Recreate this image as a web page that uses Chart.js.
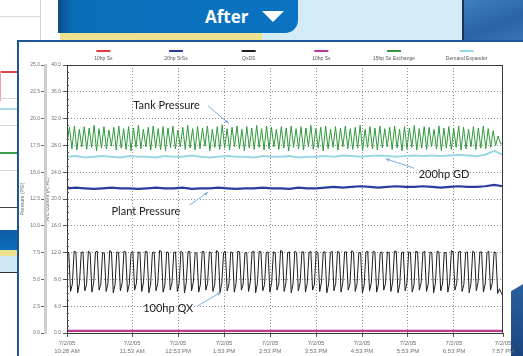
<!DOCTYPE html>
<html>
<head>
<meta charset="utf-8">
<script src="https://cdn.jsdelivr.net/npm/chart.js@4.4.1/dist/chart.umd.min.js"></script>
<style>
  body { margin: 0; width: 523px; height: 356px; overflow: hidden; position: relative; background: #fff; font-family: Lato, "Open Sans", sans-serif; }
  .abs { position: absolute; }
  #header { left: 58px; top: 0; width: 240px; height: 33px; background: linear-gradient(to right, #0b4c86 0, #0a6db8 14px, #0a73c2 100%); border-bottom-right-radius: 13px; z-index: 3; }
  #header span { position: absolute; left: 147px; top: 5px; color: #fff; font: 700 17px "Open Sans", sans-serif; }
  #header i { position: absolute; left: 204px; top: 11px; width: 0; height: 0; border-left: 11px solid transparent; border-right: 11px solid transparent; border-top: 11px solid #fff; }
  #sky { left: 262px; top: 0; width: 201px; height: 40px; background: #d3ebf7; }
  #sep { left: 462px; top: 0; width: 2px; height: 40px; background: #1b3350; }
  #water { left: 464px; top: 0; width: 59px; height: 40px; background: linear-gradient(160deg, #3f7fc0, #2a63a6 60%, #3a74b6); }
  #gold { left: 60px; top: 33px; width: 202px; height: 7px; background: #ece290; z-index: 2; }
  #panel { left: 17px; top: 40px; width: 520px; height: 330px; border: 2px solid #1d5595; background: #fff; box-sizing: border-box; }
  #corner { left: 511px; top: 284px; width: 12px; height: 72px; background: linear-gradient(#2a5f9e, #1a4680); clip-path: polygon(0 10%, 100% 0, 100% 100%, 0 100%); }
  #chart { position: absolute; left: 20px; top: 42px; }
</style>
</head>
<body>
<div class="abs" style="left:0;top:16px;width:40px;height:1px;background:#d9d9d9"></div>
<div class="abs" style="left:40px;top:0;width:1px;height:40px;background:#d5d5d5"></div>
<div class="abs" style="left:0;top:71px;width:17px;height:2px;background:#e0454a"></div>
<div class="abs" style="left:0;top:71px;width:1px;height:30px;background:#f0a0a0"></div>
<div class="abs" style="left:0;top:98px;width:17px;height:1px;background:#d5d5d5"></div>
<div class="abs" style="left:0;top:108px;width:17px;height:2px;background:#a8dbe8"></div>
<div class="abs" style="left:0;top:125px;width:17px;height:1px;background:#d5d5d5"></div>
<div class="abs" style="left:0;top:152px;width:17px;height:2px;background:#3a9e48"></div>
<div class="abs" style="left:0;top:170px;width:17px;height:1px;background:#d5d5d5"></div>
<div class="abs" style="left:0;top:207px;width:17px;height:1px;background:#444"></div>
<div class="abs" style="left:0;top:230px;width:17px;height:20px;background:linear-gradient(#0f5ea6,#0b6dbb)"></div>
<div class="abs" style="left:0;top:250px;width:17px;height:6px;background:#ece290"></div>
<div class="abs" style="left:0;top:256px;width:17px;height:16px;background:#d0e7f5"></div>
<div class="abs" style="left:0;top:272px;width:17px;height:1px;background:#333"></div>

<div id="sky" class="abs"></div>
<div id="sep" class="abs"></div>
<div id="water" class="abs"></div>
<div id="header" class="abs"><span>After</span><i></i></div>
<div id="gold" class="abs"></div>
<div id="panel" class="abs"></div>
<div id="corner" class="abs"></div>
<canvas id="chart" width="503" height="314"></canvas>

<script>
// x axis: minutes since start of log (7/2/05)
const tickMinutes = [0, 85, 145, 205, 265, 325, 385, 445, 505, 569];
const tickTimes = ['10:28 AM', '11:53 AM', '12:53 PM', '1:53 PM', '2:53 PM', '3:53 PM', '4:53 PM', '5:53 PM', '6:53 PM', '7:57 PM'];
const logDate = '7/2/05';

const seriesNames = ['10hp Ss', '20hp SrSs', 'QxDS', '10hp Ss', '15hp Ss Exchange', 'Demand Expander'];

// 10hp units, idle the whole time
const redTrace = [0.3, 0.3];
const pinkTrace = [0.35, 0.35];

// Plant pressure
const plantPressure = [
  21.6, 21.7, 21.6, 21.5, 21.6, 21.7, 21.6, 21.6, 21.5, 21.6,
  21.7, 21.6, 21.6, 21.7, 21.5, 21.6, 21.6, 21.7, 21.6, 21.5,
  21.6, 21.6, 21.7, 21.6, 21.6, 21.5, 21.7, 21.6, 21.6, 21.7,
  21.8, 21.7, 21.8, 21.9, 21.8, 21.7, 21.8, 21.9, 21.8, 21.8,
  21.9, 21.8, 21.7, 21.8, 21.9, 21.8, 21.8, 21.9, 22.1, 21.9
];

// 200hp GD
const gdTrace = [
  26.3, 26.4, 26.2, 26.3, 26.4, 26.3, 26.2, 26.4, 26.3, 26.3,
  26.2, 26.4, 26.3, 26.3, 26.5, 26.3, 26.2, 26.3, 26.4, 26.3,
  26.3, 26.2, 26.4, 26.3, 26.3, 26.4, 26.2, 26.3, 26.3, 26.4,
  26.3, 26.5, 26.4, 26.3, 26.4, 26.5, 26.4, 26.3, 26.4, 26.5,
  26.4, 26.5, 26.4, 26.5, 26.6, 26.5, 26.4, 26.6, 27.2, 26.6
];

// Tank pressure
const tankPressure = [
  28.4, 30.7, 27.5, 30.9, 27.3, 30.4, 27.8, 30.8, 27.4, 30.6,
  27.7, 31.0, 27.2, 30.5, 27.6, 30.8, 27.5, 30.3, 27.9, 30.7,
  27.3, 30.9, 27.6, 30.5, 27.4, 30.8, 27.2, 30.6, 27.7, 31.0,
  27.5, 30.4, 27.8, 30.7, 27.3, 30.9, 27.6, 30.5, 27.4, 30.8,
  27.2, 30.6, 27.7, 30.9, 27.5, 30.3, 27.8, 30.7, 27.4, 31.0,
  27.6, 30.5, 27.3, 30.8, 27.5, 30.6, 27.9, 30.9, 27.2, 30.4,
  27.7, 30.8, 27.4, 31.1, 27.6, 30.5, 27.3, 30.7, 27.8, 30.9,
  27.5, 30.4, 27.2, 30.8, 27.6, 30.6, 27.4, 31.0, 27.7, 30.5,
  27.3, 30.9, 27.5, 30.7, 27.8, 30.4, 27.4, 30.8, 27.6, 30.6,
  27.2, 30.9, 27.7, 30.5, 27.5, 30.8, 27.3, 30.6, 27.8, 31.0,
  27.4, 30.5, 27.6, 30.7, 27.2, 30.9, 27.5, 30.4, 27.7, 30.8,
  27.3, 30.6, 27.8, 30.9, 27.5, 30.5, 27.4, 30.7, 27.6, 31.0,
  27.2, 30.4, 27.7, 30.8, 27.5, 30.6, 27.3, 30.9, 27.6, 30.5,
  27.8, 30.7, 27.4, 30.9, 27.6, 30.4, 27.2, 30.8, 27.5, 30.6,
  27.7, 31.0, 27.3, 30.5, 27.6, 30.8, 27.4, 30.7, 27.8, 30.4,
  27.5, 30.9, 27.2, 30.6, 27.6, 30.8, 27.4, 30.5, 27.7, 30.9,
  27.3, 30.7, 27.5, 30.4, 27.8, 30.8, 27.4, 30.6, 27.6, 30.9,
  27.5, 30.5, 27.7, 30.2, 28.0, 29.4, 28.3, 28.1
];

// 100hp QX current: load (top), unload drop, slow recovery
const qxCurrent = [
  12.1, 12.0, 6.2, 7.3, 12.2, 12.1, 6.0, 7.4, 12.0, 12.1, 6.3, 7.2, 12.2, 12.0, 6.1, 7.5,
  12.1, 12.2, 6.4, 7.3, 12.0, 11.9, 6.2, 7.4, 12.3, 12.1, 6.0, 7.2, 12.1, 12.0, 6.3, 7.5,
  12.2, 12.1, 6.1, 7.3, 12.0, 12.2, 6.4, 7.4, 12.1, 12.0, 6.2, 7.6, 12.2, 12.1, 6.0, 7.3,
  12.0, 12.1, 6.3, 7.4, 12.3, 12.2, 6.1, 7.2, 12.1, 12.0, 6.4, 7.5, 12.0, 12.1, 6.2, 7.3,
  12.2, 12.0, 6.0, 7.4, 12.1, 12.2, 6.3, 7.6, 12.0, 11.9, 6.1, 7.3, 12.2, 12.1, 6.4, 7.4,
  12.1, 12.0, 6.2, 7.2, 12.3, 12.1, 6.0, 7.5, 12.0, 12.2, 6.3, 7.3, 12.1, 12.0, 6.1, 7.4,
  12.2, 12.1, 6.4, 7.3, 12.0, 12.0, 6.2, 7.6, 12.1, 12.2, 6.0, 7.4, 12.2, 12.1, 6.3, 7.2,
  12.0, 12.1, 6.1, 7.5, 12.1, 12.0, 6.4, 7.3, 12.3, 12.2, 6.2, 7.4, 12.0, 12.1, 6.0, 7.3,
  12.2, 12.0, 6.3, 7.5, 12.1, 12.1, 6.1, 7.4, 12.0, 12.2, 6.4, 7.2, 12.2, 12.0, 6.2, 7.6,
  12.1, 12.1, 6.0, 7.3, 12.0, 12.2, 6.3, 7.4, 12.2, 12.0, 6.1, 7.5, 12.1, 12.1, 6.4, 7.3,
  12.3, 12.1, 6.2, 7.4, 12.0, 12.0, 6.0, 7.2, 12.1, 12.2, 6.3, 7.5, 12.2, 12.1, 6.1, 7.3,
  12.0, 12.1, 6.4, 7.4, 12.1, 12.0, 6.2, 7.6, 12.2, 12.2, 6.0, 7.3, 12.0, 12.1, 6.3, 7.4,
  12.1, 12.0, 6.1, 7.2, 12.2, 12.1, 6.4, 7.5, 12.0, 12.2, 6.2, 7.3, 12.1, 12.0, 6.0, 7.4,
  12.2, 12.1, 6.3, 7.3, 12.0, 12.0, 6.1, 7.5, 12.3, 12.1, 6.4, 7.4, 12.1, 12.2, 6.2, 7.2,
  12.0, 12.1, 6.0, 7.4, 12.2, 12.0, 6.3, 7.6, 12.1, 12.1, 6.1, 7.3, 12.0, 12.2, 6.4, 7.5,
  12.1, 12.0, 5.9, 6.6, 6.0, 5.5
];

// callouts: text position and arrow (x in minutes, y in amps)
const notes = [
  { text: 'Tank Pressure', at: [130, 34.0], from: [184, 33.9], to: [211, 31.3] },
  { text: '200hp GD', at: [492, 23.6], from: [453, 24.6], to: [416, 26.0] },
  { text: 'Plant Pressure', at: [103, 18.2], from: [160, 19.1], to: [184, 21.0] },
  { text: '100hp QX', at: [132, 3.6], from: [170, 4.0], to: [201, 6.1] }
];

const X_MAX = tickMinutes[tickMinutes.length - 1];
function spread(values) {
  return values.map((v, i) => ({ x: i * X_MAX / (values.length - 1), y: v }));
}

const decor = {
  id: 'decor',
  afterDatasetsDraw(chart) {
    const { ctx, chartArea: a, scales: { x, y } } = chart;
    ctx.save();
    // plot frame
    ctx.strokeStyle = '#3a3a3a';
    ctx.lineWidth = 1;
    ctx.strokeRect(a.left + 0.5, a.top + 0.5, a.right - a.left - 1, a.bottom - a.top);
    // minor ticks on the current axis
    ctx.strokeStyle = '#555';
    for (let v = 1; v < 40; v++) {
      if (v % 4 === 0) continue;
      const py = Math.round(y.getPixelForValue(v)) + 0.5;
      ctx.beginPath();
      ctx.moveTo(a.left, py);
      ctx.lineTo(a.left + 2, py);
      ctx.stroke();
    }
    // callouts
    ctx.font = '11px Lato, "Open Sans", sans-serif';
    ctx.fillStyle = '#222';
    ctx.textAlign = 'center';
    ctx.textBaseline = 'middle';
    notes.forEach(n => {
      ctx.fillText(n.text, x.getPixelForValue(n.at[0]), y.getPixelForValue(n.at[1]));
      const x1 = x.getPixelForValue(n.from[0]), y1 = y.getPixelForValue(n.from[1]);
      const x2 = x.getPixelForValue(n.to[0]), y2 = y.getPixelForValue(n.to[1]);
      const ang = Math.atan2(y2 - y1, x2 - x1);
      ctx.strokeStyle = '#7aaee0';
      ctx.fillStyle = '#7aaee0';
      ctx.lineWidth = 1;
      ctx.beginPath();
      ctx.moveTo(x1, y1);
      ctx.lineTo(x2, y2);
      ctx.stroke();
      ctx.beginPath();
      ctx.moveTo(x2, y2);
      ctx.lineTo(x2 - 4 * Math.cos(ang - 0.45), y2 - 4 * Math.sin(ang - 0.45));
      ctx.lineTo(x2 - 4 * Math.cos(ang + 0.45), y2 - 4 * Math.sin(ang + 0.45));
      ctx.closePath();
      ctx.fill();
      ctx.fillStyle = '#222';
    });
    // legend: short line with the name under it, one column per series
    const colW = (a.right - a.left) / chart.data.datasets.length;
    ctx.font = '5px Arial, sans-serif';
    chart.data.datasets.forEach((ds, i) => {
      const cx = a.left + colW * (i + 0.5);
      ctx.strokeStyle = ds.borderColor;
      ctx.lineWidth = 2;
      ctx.beginPath();
      ctx.moveTo(cx - 7, a.top - 14);
      ctx.lineTo(cx + 7, a.top - 14);
      ctx.stroke();
      ctx.fillStyle = '#555';
      ctx.fillText(ds.label, cx, a.top - 6);
    });
    ctx.restore();
  }
};

const hideEnds = c => (c.index === 0 || c.index === c.scale.ticks.length - 1) ? 'rgba(0,0,0,0)' : '#8c8c8c';

new Chart(document.getElementById('chart'), {
  type: 'line',
  data: {
    datasets: [
      { label: seriesNames[0], data: spread(redTrace), borderColor: '#e23a3f', borderWidth: 2, order: 5 },
      { label: seriesNames[1], data: spread(plantPressure), borderColor: '#2b3c9c', borderWidth: 2.2, order: 3 },
      { label: seriesNames[2], data: spread(qxCurrent), borderColor: '#1e1e1e', borderWidth: 1, order: 4 },
      { label: seriesNames[3], data: spread(pinkTrace), borderColor: '#b8379a', borderWidth: 2, order: 0 },
      { label: seriesNames[4], data: spread(tankPressure), borderColor: '#2f9a3c', borderWidth: 1, order: 1 },
      { label: seriesNames[5], data: spread(gdTrace), borderColor: '#9ad8e4', borderWidth: 2, order: 2 }
    ]
  },
  options: {
    responsive: false,
    animation: false,
    elements: { point: { radius: 0 }, line: { tension: 0 } },
    layout: { padding: { left: 0, top: 23, right: 20, bottom: 0 } },
    plugins: { legend: { display: false }, tooltip: { enabled: false } },
    scales: {
      x: {
        type: 'linear',
        min: 0,
        max: X_MAX,
        afterBuildTicks: s => { s.ticks = tickMinutes.map(v => ({ value: v })); },
        afterFit: s => { s.height = 23; },
        ticks: {
          autoSkip: false,
          maxRotation: 0,
          color: '#707070',
          font: { size: 6, family: 'Arial, sans-serif', lineHeight: 1.4 },
          padding: 2,
          callback: (v, i) => [logDate, tickTimes[i]]
        },
        grid: { color: hideEnds, tickColor: '#555', tickLength: 4 },
        border: { color: '#3a3a3a', dash: [1, 2] }
      },
      y: {
        position: 'left',
        min: 0,
        max: 40,
        weight: 0,
        afterFit: s => { s.width = 22; },
        ticks: { stepSize: 4, color: '#707070', font: { size: 5, family: 'Arial, sans-serif' }, padding: 2, callback: v => v.toFixed(1) },
        grid: { color: hideEnds, tickColor: '#555', tickLength: 4 },
        border: { color: '#3a3a3a', dash: [1, 2] },
        title: { display: true, text: 'A/C Current (A, AC)', color: '#666', font: { size: 5, family: 'Arial, sans-serif' }, padding: 0 }
      },
      p: {
        position: 'left',
        min: 0,
        max: 25,
        weight: 1,
        afterFit: s => { s.width = 25; },
        ticks: { stepSize: 2.5, color: '#707070', font: { size: 5, family: 'Arial, sans-serif' }, padding: 1, callback: v => v.toFixed(1) },
        grid: { drawOnChartArea: false, tickColor: '#666', tickLength: 4 },
        border: { color: '#cdcdcd', width: 3 },
        title: { display: true, text: 'Pressure (PSI)', color: '#666', font: { size: 5, family: 'Arial, sans-serif' }, padding: 0 }
      }
    }
  },
  plugins: [decor]
});
</script>
</body>
</html>
